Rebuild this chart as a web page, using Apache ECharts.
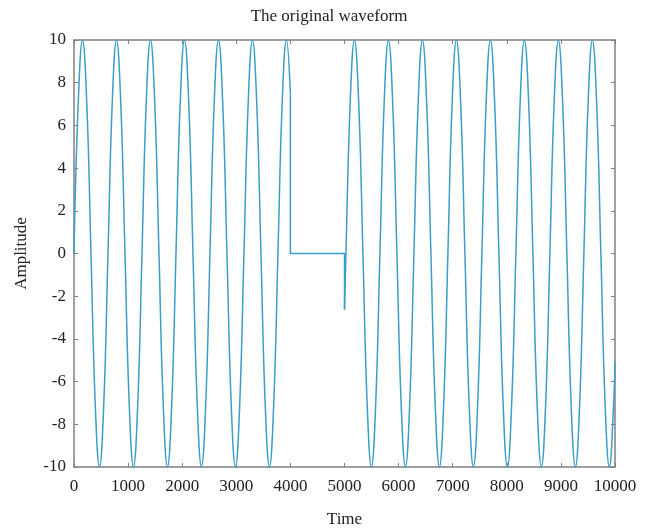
<!DOCTYPE html>
<html>
<head>
<meta charset="utf-8">
<script src="https://cdn.jsdelivr.net/npm/echarts@6/dist/echarts.min.js"></script>
<style>html,body{margin:0;padding:0;background:#fff}#c{width:658px;height:531px}</style>
</head>
<body>
<div id="c"></div>
<script>
// Segment before the gap (time, amplitude)
const timeA = [0,78.5,157.1,235.6,314.2,392.7,471.2,549.8,628.3,706.9,785.4,863.9,942.5,1021,1099.6,1178.1,1256.6,1335.2,1413.7,1492.3,1570.8,1649.3,1727.9,1806.4,1885,1963.5,2042,2120.6,2199.1,2277.7,2356.2,2434.7,2513.3,2591.8,2670.4,2748.9,2827.4,2906,2984.5,3063.1,3141.6,3220.1,3298.7,3377.2,3455.8,3534.3,3612.8,3691.4,3769.9,3848.5,3927,4000];
const ampA = [0,7.07,10,7.07,0,-7.07,-10,-7.07, 0,7.07,10,7.07,0,-7.07,-10,-7.07, 0,7.07,10,7.07,0,-7.07,-10,-7.07, 0,7.07,10,7.07,0,-7.07,-10,-7.07, 0,7.07,10,7.07,0,-7.07,-10,-7.07, 0,7.07,10,7.07,0,-7.07,-10,-7.07, 0,7.07,10,7.45];
// The zeroed gap
const timeGap = [4000,4000,5000,5000];
const ampGap = [7.45,0,0,-2.62];
// Segment after the gap
const timeB = [5000,5026.5,5105.1,5183.6,5262.1,5340.7,5419.2,5497.8,5576.3,5654.9,5733.4,5811.9,5890.5,5969,6047.6,6126.1,6204.6,6283.2,6361.7,6440.3,6518.8,6597.3,6675.9,6754.4,6833,6911.5,6990,7068.6,7147.1,7225.7,7304.2,7382.7,7461.3,7539.8,7618.4,7696.9,7775.4,7854,7932.5,8011.1,8089.6,8168.1,8246.7,8325.2,8403.8,8482.3,8560.8,8639.4,8717.9,8796.5,8875,8953.5,9032.1,9110.6,9189.2,9267.7,9346.2,9424.8,9503.3,9581.9,9660.4,9738.9,9817.5,9896,9974.6,10000];
const ampB = [-2.62, 0,7.07,10,7.07,0,-7.07,-10,-7.07, 0,7.07,10,7.07,0,-7.07,-10,-7.07, 0,7.07,10,7.07,0,-7.07,-10,-7.07, 0,7.07,10,7.07,0,-7.07,-10,-7.07, 0,7.07,10,7.07,0,-7.07,-10,-7.07, 0,7.07,10,7.07,0,-7.07,-10,-7.07, 0,7.07,10,7.07,0,-7.07,-10,-7.07, 0,7.07,10,7.07,0,-7.07,-10,-7.07, -5.06];

const xTicks = ['0','1000','2000','3000','4000','5000','6000','7000','8000','9000','10000'];
const yTicks = ['-10','-8','-6','-4','-2','0','2','4','6','8','10'];

const pairs = (xs, ys) => xs.map((x, i) => [x, ys[i]]);
const FONT = 'Liberation Serif';
const LINE = '#3a9ec6';
const AX = '#808080';

const chart = echarts.init(document.getElementById('c'), null, {renderer: 'canvas'});
const baseX = {
  type: 'value', min: 0, max: 10000, interval: 1000,
  axisLine: {show: true, onZero: false, lineStyle: {color: AX, width: 1.5}},
  axisTick: {show: true, inside: true, length: 4, lineStyle: {color: AX}},
  splitLine: {show: false}
};
const baseY = {
  type: 'value', min: -10, max: 10, interval: 2,
  axisLine: {show: true, onZero: false, lineStyle: {color: AX, width: 1.5}},
  axisTick: {show: true, inside: true, length: 4, lineStyle: {color: AX}},
  splitLine: {show: false}
};
chart.setOption({
  backgroundColor: '#ffffff',
  animation: false,
  title: {
    text: 'The original waveform', left: 'center', top: 3,
    textStyle: {fontFamily: FONT, fontSize: 17, fontWeight: 'normal', color: '#222'}
  },
  grid: {left: 74, right: 43, top: 40, bottom: 64, containLabel: false, outerBoundsMode: 'none'},
  xAxis: [
    Object.assign({}, baseX, {
      position: 'bottom',
      name: 'Time', nameLocation: 'middle', nameGap: 44,
      nameTextStyle: {fontFamily: FONT, fontSize: 17, color: '#222'},
      axisLabel: {fontFamily: FONT, fontSize: 17, color: '#222', margin: 11,
        formatter: v => xTicks[Math.round(v / 1000)]}
    }),
    Object.assign({}, baseX, {position: 'top', axisLabel: {show: false}})
  ],
  yAxis: [
    Object.assign({}, baseY, {
      position: 'left',
      name: 'Amplitude', nameLocation: 'middle', nameGap: 44,
      nameTextStyle: {fontFamily: FONT, fontSize: 17, color: '#222'},
      axisLabel: {fontFamily: FONT, fontSize: 17, color: '#222', margin: 8,
        formatter: v => yTicks[Math.round((v + 10) / 2)]}
    }),
    Object.assign({}, baseY, {position: 'right', axisLabel: {show: false}})
  ],
  series: [
    {type: 'line', data: pairs(timeA, ampA), smooth: 0.45, showSymbol: false,
      lineStyle: {color: LINE, width: 1.5}},
    {type: 'line', data: pairs(timeGap, ampGap), smooth: false, showSymbol: false,
      lineStyle: {color: LINE, width: 1.5}},
    {type: 'line', data: pairs(timeB, ampB), smooth: 0.45, showSymbol: false,
      lineStyle: {color: LINE, width: 1.5}}
  ]
});
</script>
</body>
</html>
